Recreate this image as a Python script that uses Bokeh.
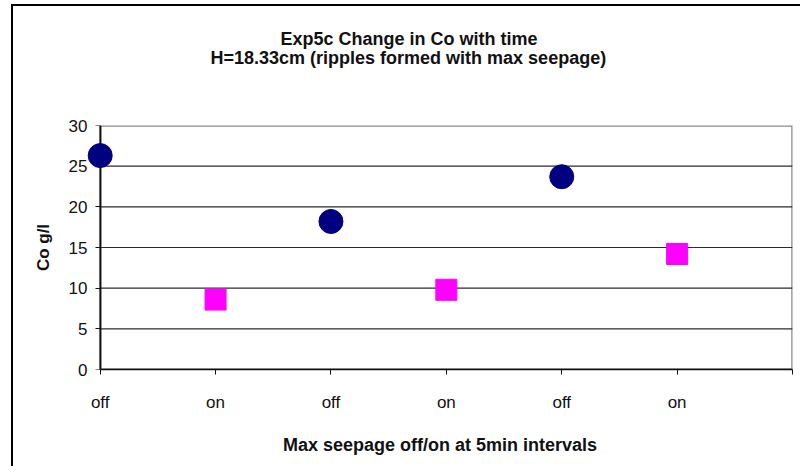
from bokeh.plotting import figure
from bokeh.models import FixedTicker, LinearAxis, Title
from bokeh.embed import file_html
from bokeh.resources import INLINE

# ---- data ----
categories = ["off", "on", "off", "on", "off", "on"]
co_off = [26.3, 18.2, 23.7]
co_on = [8.6, 9.8, 14.2]
y_ticks = [0, 5, 10, 15, 20, 25, 30]
title_line1 = "Exp5c Change in Co with time"
title_line2 = "H=18.33cm (ripples formed with max seepage)"
x_title = "Max seepage off/on at 5min intervals"
y_title = "Co g/l"

off_x = [i for i, c in enumerate(categories) if c == "off"]
on_x = [i for i, c in enumerate(categories) if c == "on"]
n = len(categories)
x_ticks = list(range(n + 1))

FONT = "Liberation Sans"

p = figure(width=789, height=462, x_range=(-0.11, n), y_range=(0, 30),
           output_backend="svg", toolbar_location=None,
           min_border_left=74, min_border_right=10, min_border_top=119,
           min_border_bottom=99)
p.outline_line_color = None
p.xgrid.visible = False
p.ygrid.visible = False
p.background_fill_color = "white"
p.border_fill_color = "white"

# plot-area border (gray) and gridlines
p.quad(left=[0], right=[n], bottom=[y_ticks[0]], top=[y_ticks[-1]],
       fill_color=None, line_color="#8c8c8c", line_width=2.5, level="underlay")
p.segment(x0=[0] * (len(y_ticks) - 2), x1=[n] * (len(y_ticks) - 2),
          y0=y_ticks[1:-1], y1=y_ticks[1:-1], line_color="#2b2b2b",
          line_width=1.2, level="underlay")

# data
r1 = p.scatter(off_x, co_off, marker="circle", size=24, fill_color="#000080",
               line_color="#000080")
r2 = p.scatter(on_x, co_on, marker="square", size=21, fill_color="#ff00ff",
               line_color="#ff00ff")
r1.level = "overlay"
r2.level = "overlay"

# x axis
xa = p.xaxis[0]
xa.ticker = FixedTicker(ticks=x_ticks)
xa.major_label_overrides = {i: (categories[i] if i < n else "") for i in x_ticks}
xa.bounds = (0, n)
xa.minor_tick_line_color = None
xa.major_tick_in = 0
xa.major_tick_out = 5
xa.axis_line_width = 1.6
xa.axis_line_color = "#111111"
xa.major_tick_line_color = "#111111"
xa.major_label_text_font = FONT
xa.major_label_text_font_size = "17px"
xa.major_label_text_color = "#111111"
xa.major_label_standoff = 18
xa.axis_label = x_title
xa.axis_label_text_font = FONT
xa.axis_label_text_font_style = "bold"
xa.axis_label_text_font_size = "18px"
xa.axis_label_text_color = "#111111"
xa.axis_label_standoff = 20

# y axis line + ticks at x = 0 (inside the frame)
ya = p.yaxis[0]
ya.fixed_location = 0
ya.ticker = FixedTicker(ticks=y_ticks)
ya.minor_tick_line_color = None
ya.major_tick_in = 0
ya.major_tick_out = 5
ya.axis_line_width = 1.6
ya.axis_line_color = "#111111"
ya.major_tick_line_color = "#111111"
ya.major_label_text_color = None

# y labels on a label-only axis at the frame edge
yl = LinearAxis(ticker=FixedTicker(ticks=y_ticks))
yl.axis_line_color = None
yl.major_tick_line_color = None
yl.minor_tick_line_color = None
yl.major_tick_in = 0
yl.major_tick_out = 0
yl.major_label_standoff = 0
yl.major_label_text_font = FONT
yl.major_label_text_font_size = "17px"
yl.major_label_text_color = "#111111"
yl.axis_label = y_title
yl.axis_label_text_font = FONT
yl.axis_label_text_font_style = "bold"
yl.axis_label_text_font_size = "17px"
yl.axis_label_text_color = "#111111"
yl.axis_label_standoff = 13
p.add_layout(yl, "left")

# titles: p.title is the top line; a blank spacer keeps them up
p.title.text = title_line1
p.title.align = "left"
p.title.offset = 193
p.title.text_font = FONT
p.title.text_font_size = "18px"
p.title.text_font_style = "bold"
p.title.text_color = "#111111"
p.title.standoff = -3

spacer = Title(text=" ", text_font_size="18px", standoff=37)
p.add_layout(spacer, "above")
t2 = Title(text=title_line2, align="left", offset=123, text_font=FONT,
           text_font_size="18px", text_font_style="bold", text_color="#111111",
           standoff=-3)
p.add_layout(t2, "above")

p.styles = {"border-left": "2px solid black", "border-top": "2px solid black",
            "margin-left": "11px", "margin-top": "4px"}

open("out.html", "w").write(file_html(p, INLINE))
